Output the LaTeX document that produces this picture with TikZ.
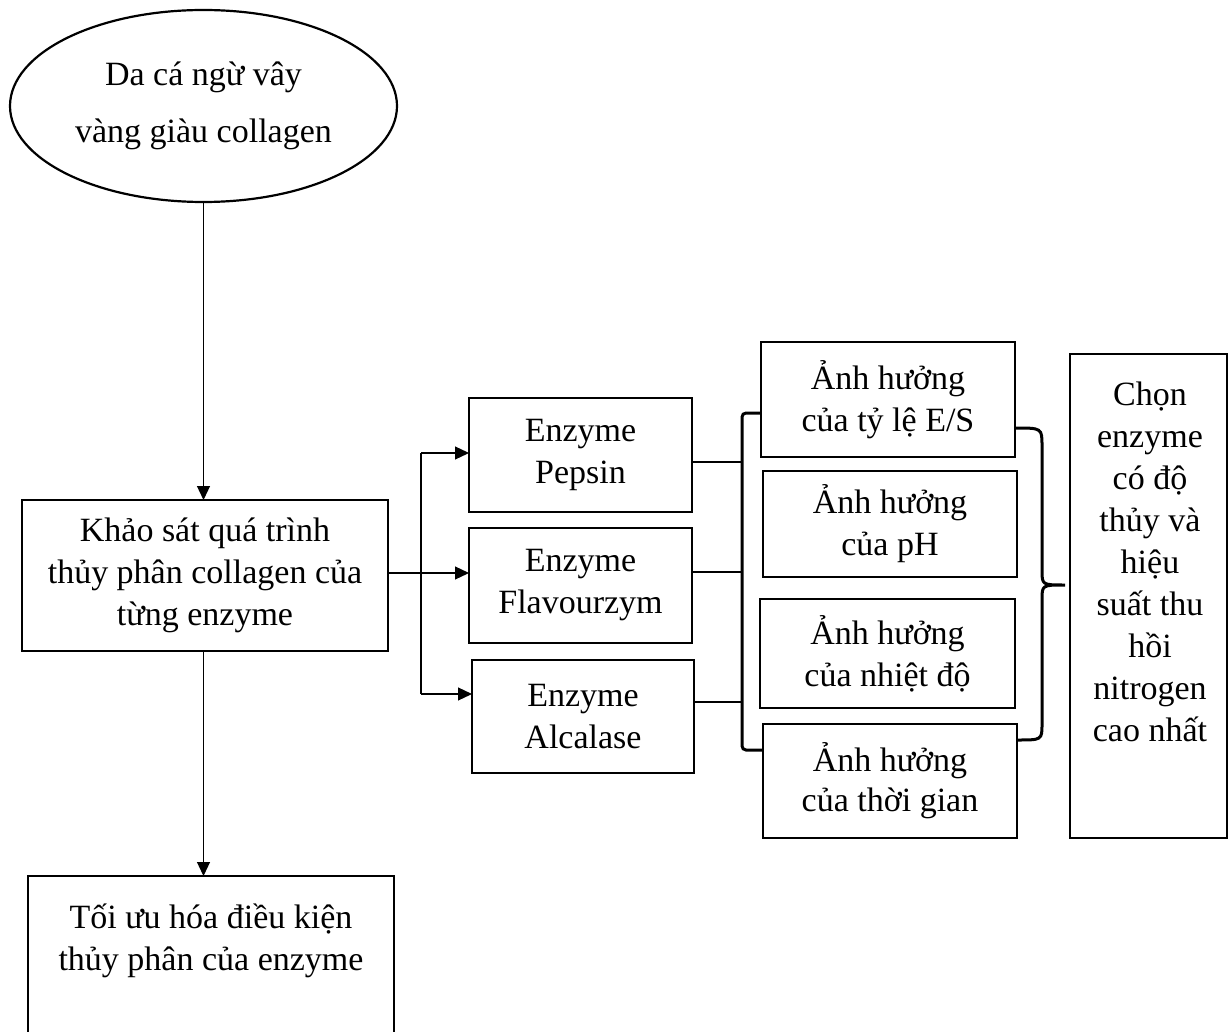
\documentclass[tikz,border=0pt]{standalone}
\usepackage{fontspec}
\setmainfont{Liberation Serif}
\usetikzlibrary{arrows.meta,shapes.geometric}

\tikzset{
  box/.style={draw, line width=2.2pt, rectangle, inner sep=0pt, outer sep=0pt,
              align=center, font=\fontsize{34}{42}\selectfont},
  txt/.style={inner sep=0pt, align=center, font=\fontsize{34}{42}\selectfont},
  conn/.style={line width=1.2pt},
  arrow/.style={line width=1.2pt, -{Triangle[length=14pt,width=13pt]}},
  brace/.style={line width=3pt}
}

\begin{document}
\begin{tikzpicture}[x=1pt, y=-1pt]
\useasboundingbox (0,0) rectangle (1229,1032);
\clip (0,0) rectangle (1229,1032);

% starting material
\node[ellipse, draw, line width=2.2pt, minimum width=387pt, minimum height=192pt,
      inner sep=0pt, align=center, font=\fontsize{34}{57}\selectfont]
  (source) at (203.5,106) {Da cá ngừ vây\\vàng giàu collagen};

% survey of hydrolysis and optimisation
\node[box, minimum width=366pt, minimum height=151pt] (survey) at (205,575.5)
  {Khảo sát quá trình\\thủy phân collagen của\\từng enzyme};
\node[box, minimum width=366pt, minimum height=168pt] (optimize) at (211,960) {};
\node[txt] (optimizeText) at (211,941) {Tối ưu hóa điều kiện\\thủy phân của enzyme};

% enzymes
\node[box, minimum width=223pt, minimum height=114pt] (pepsin) at (580.5,455) {Enzyme\\Pepsin};
\node[box, minimum width=223pt, minimum height=115pt] (flavour) at (580.5,585.5) {Enzyme\\Flavourzym};
\node[box, minimum width=222pt, minimum height=113pt] (alcalase) at (583,716.5) {Enzyme\\Alcalase};

% factors
\node[box, minimum width=254pt, minimum height=115pt] (es) at (888,399.5) {Ảnh hưởng\\của tỷ lệ E/S};
\node[box, minimum width=254pt, minimum height=106pt] (ph) at (890,524) {Ảnh hưởng\\của pH};
\node[box, minimum width=255pt, minimum height=109pt] (temp) at (887.5,653.5) {Ảnh hưởng\\của nhiệt độ};
\node[box, minimum width=254pt, minimum height=114pt, font=\fontsize{34}{40}\selectfont]
  (time) at (890,781) {Ảnh hưởng\\của thời gian};

% selection
\node[box, minimum width=157pt, minimum height=484pt] (choose) at (1148.5,596) {};
\node[txt] (chooseText) at (1150,562)
  {Chọn\\enzyme\\có độ\\thủy và\\hiệu\\suất thu\\hồi\\nitrogen\\cao nhất};

% vertical flow
\draw[arrow] (source.south) -- (source.south |- survey.north);
\draw[arrow] (source.south |- survey.south) -- (source.south |- optimize.north);

% branching to the enzymes
\coordinate (split) at (421,573);
\coordinate (pepIn) at (421,453);
\coordinate (alcIn) at (421,694);
\draw[arrow] (survey.east |- split) -- (split -| flavour.west);
\draw[conn] (pepIn) -- (alcIn);
\draw[arrow] (pepIn) -- (pepIn -| pepsin.west);
\draw[arrow] (alcIn) -- (alcIn -| alcalase.west);

% left bracket collecting the enzymes
\coordinate (brL) at (742,0);
\draw[brace, rounded corners=4pt] (es.west |- 0,413) -- (brL |- 0,413) -- (brL |- 0,750) -- (time.west |- 0,750);
\draw[conn] (pepsin.east |- 0,462) -- (brL |- 0,462);
\draw[conn] (flavour.east |- 0,572) -- (brL |- 0,572);
\draw[conn] (alcalase.east |- 0,702) -- (brL |- 0,702);

% right curly brace towards the selection
\coordinate (brTip) at (1065,585);
\draw[brace] (es.east |- 0,428) .. controls (1042,428) .. (1042,446)
  -- (1042,570) .. controls (1042,585) .. (brTip)
  (brTip) .. controls (1042,585) .. (1042,600)
  -- (1042,724) .. controls (1042,740) .. (time.east |- 0,740);
\end{tikzpicture}
\end{document}
